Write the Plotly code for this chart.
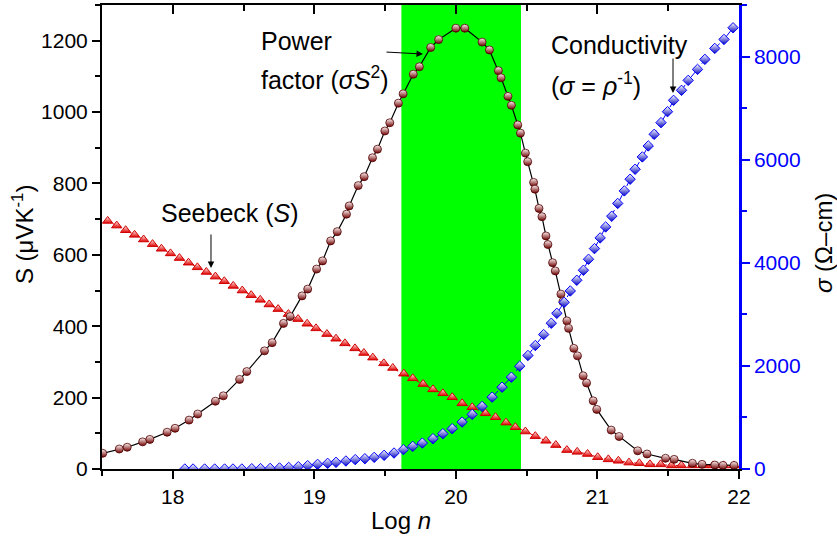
import plotly.graph_objects as go

# ---------------- data ----------------
pf_logn = [17.505, 17.622, 17.678, 17.787, 17.838, 17.960, 18.016, 18.115, 18.176, 18.301,
           18.357, 18.472, 18.523, 18.648, 18.702, 18.782, 18.829, 18.913, 18.953, 19.016,
           19.058, 19.115, 19.162, 19.227, 19.246, 19.310, 19.352, 19.411, 19.446, 19.498,
           19.533, 19.594, 19.627, 19.699, 19.742, 19.822, 19.878, 20.000, 20.063, 20.185,
           20.237, 20.300, 20.319, 20.368, 20.392, 20.437, 20.456, 20.491, 20.507, 20.549,
           20.558, 20.587, 20.608, 20.636, 20.650, 20.683, 20.702, 20.742, 20.756, 20.784,
           20.796, 20.833, 20.859, 20.899, 20.923, 20.970, 20.995, 21.097, 21.153, 21.284,
           21.350, 21.481, 21.542, 21.671, 21.739, 21.829, 21.887, 21.965]
pf_value = [44, 56, 61, 76, 83, 103, 114, 137, 154, 190,
            205, 251, 273, 331, 354, 408, 427, 485, 504, 560,
            583, 639, 665, 714, 737, 794, 819, 872, 896, 947,
            970, 1025, 1051, 1106, 1127, 1181, 1203, 1235, 1235, 1196,
            1174, 1116, 1096, 1044, 1019, 964, 941, 885, 861, 803,
            784, 730, 707, 653, 629, 578, 555, 490, 469, 415,
            394, 338, 317, 261, 241, 191, 167, 109, 91, 51,
            42, 30, 27, 16, 13, 11, 10, 10]

seebeck_logn = [17.540, 17.604, 17.667, 17.730, 17.794, 17.857, 17.920, 17.984, 18.047, 18.111,
                18.174, 18.237, 18.301, 18.364, 18.427, 18.491, 18.554, 18.618, 18.681, 18.744,
                18.817, 18.885, 18.949, 19.012, 19.089, 19.153, 19.216, 19.287, 19.350, 19.413,
                19.491, 19.554, 19.632, 19.695, 19.768, 19.838, 19.908, 19.974, 20.044, 20.115,
                20.209, 20.280, 20.354, 20.420, 20.491, 20.561, 20.636, 20.706, 20.784, 20.857,
                20.930, 21.002, 21.077, 21.148, 21.223, 21.296, 21.371, 21.446, 21.523, 21.593,
                21.671, 21.746, 21.817, 21.892, 21.965]
seebeck_S = [695, 682, 669, 656, 643, 630, 617, 604, 591, 578,
             565, 552, 539, 526, 513, 500, 487, 474, 461, 448,
             434, 420, 407, 394, 378, 365, 352, 338, 325, 312,
             296, 283, 267, 254, 238, 223, 212, 201, 184, 173,
             156, 145, 130, 117, 105, 92, 79, 67, 53, 48,
             42, 33, 27, 23, 18, 16, 13, 13, 10, 10,
             10, 10, 10, 10, 10]

cond_logn = [18.085, 18.143, 18.225, 18.296, 18.366, 18.425, 18.488, 18.558, 18.620, 18.688,
             18.754, 18.819, 18.887, 18.953, 19.023, 19.094, 19.153, 19.223, 19.289, 19.357,
             19.423, 19.493, 19.563, 19.629, 19.695, 19.763, 19.838, 19.908, 19.974, 20.044,
             20.115, 20.185, 20.256, 20.326, 20.392, 20.451, 20.509, 20.561, 20.620, 20.674,
             20.713, 20.765, 20.808, 20.854, 20.901, 20.937, 20.979, 21.019, 21.058, 21.101,
             21.143, 21.190, 21.231, 21.266, 21.317, 21.359, 21.401, 21.449, 21.495, 21.538,
             21.594, 21.641, 21.707, 21.759, 21.829, 21.894, 21.958]
cond_sigma = [0, 0, 0, 0, 0, 0, 0, 5, 8, 12,
              20, 30, 45, 65, 90, 110, 130, 155, 182, 200,
              226, 265, 310, 376, 439, 503, 588, 685, 782, 910,
              1059, 1214, 1394, 1587, 1781, 1994, 2202, 2395, 2608, 2827,
              3020, 3233, 3453, 3661, 3855, 4068, 4275, 4482, 4695, 4903,
              5151, 5394, 5621, 5814, 6053, 6266, 6492, 6718, 6931, 7151,
              7345, 7538, 7751, 7945, 8158, 8332, 8558]

highlight_logn = [19.615, 20.46]

x_range = [17.5, 22]
s_range = [0, 1300]
sigma_range = [0, 9000]

FONT = "Liberation Sans, Arial, sans-serif"
BLUE = "#0000ff"

fig = go.Figure()

fig.add_shape(type="rect", xref="x", yref="y", x0=highlight_logn[0], x1=highlight_logn[1],
              y0=s_range[0], y1=s_range[1], fillcolor="#00ff00", line_width=0, layer="below")

fig.add_trace(go.Scatter(
    x=seebeck_logn, y=seebeck_S, mode="lines+markers",
    line=dict(color="#d00000", width=1, dash="dot"),
    marker=dict(symbol="triangle-up", size=9, color="#fff4f0",
                gradient=dict(type="vertical", color="#e00000"),
                line=dict(color="#d00000", width=1)),
    showlegend=False, hoverinfo="skip"))

fig.add_trace(go.Scatter(
    x=pf_logn, y=pf_value, mode="lines+markers",
    line=dict(color="black", width=1.2),
    marker=dict(symbol="circle", size=8, color="#fff4f4",
                gradient=dict(type="vertical", color="#700000"),
                line=dict(color="#500000", width=0.8)),
    showlegend=False, hoverinfo="skip"))

fig.add_trace(go.Scatter(
    x=cond_logn, y=cond_sigma, mode="lines+markers", yaxis="y2",
    line=dict(color=BLUE, width=1, dash="dash"),
    marker=dict(symbol="diamond", size=8, color="white",
                gradient=dict(type="vertical", color="#0000c0"),
                line=dict(color=BLUE, width=1)),
    showlegend=False, hoverinfo="skip"))

# invisible trace so that the top (mirrored) x axis gets drawn
fig.add_trace(go.Scatter(x=pf_logn, y=pf_value, xaxis="x2", yaxis="y", mode="none",
                         showlegend=False, hoverinfo="skip"))

tickfont = dict(family=FONT, size=21, color="black")

fig.update_layout(
    width=837, height=540,
    margin=dict(l=102, r=98, t=5, b=71),
    paper_bgcolor="white", plot_bgcolor="white",
    font=dict(family=FONT, color="black"),
    showlegend=False,
    xaxis=dict(range=x_range, tickmode="linear", tick0=18, dtick=1,
               ticks="outside", ticklen=8, tickwidth=1.5, tickcolor="black",
               minor=dict(tick0=17.5, dtick=0.5, ticks="outside", ticklen=5, tickwidth=1.5, tickcolor="black"),
               showline=True, linecolor="black", linewidth=2,
               showgrid=False, zeroline=False, tickfont=tickfont),
    xaxis2=dict(range=x_range, overlaying="x", side="top", anchor="y",
                tickmode="linear", tick0=18, dtick=1,
                ticks="inside", ticklen=9, tickwidth=1.5, tickcolor="black",
                minor=dict(tick0=17.5, dtick=0.5, ticks="inside", ticklen=6, tickwidth=1.5, tickcolor="black"),
                showticklabels=False, showline=True, linecolor="black", linewidth=2,
                showgrid=False, zeroline=False),
    yaxis=dict(range=s_range, tickmode="linear", tick0=0, dtick=200,
               ticks="outside", ticklen=8, tickwidth=1.5, tickcolor="black",
               minor=dict(tick0=0, dtick=100, ticks="outside", ticklen=5, tickwidth=1.5, tickcolor="black"),
               showline=True, linecolor="black", linewidth=2,
               showgrid=False, zeroline=False, tickfont=tickfont),
    yaxis2=dict(range=sigma_range, overlaying="y", side="right", anchor="x",
                tickmode="linear", tick0=0, dtick=2000,
                ticks="outside", ticklen=8, tickwidth=2, tickcolor=BLUE,
                minor=dict(tick0=0, dtick=1000, ticks="outside", ticklen=5, tickwidth=2, tickcolor=BLUE),
                showline=True, linecolor=BLUE, linewidth=2.5,
                showgrid=False, zeroline=False,
                tickfont=dict(family=FONT, size=21, color=BLUE)),
)

afont = dict(family=FONT, size=25, color="black")
tfont = dict(family=FONT, size=24, color="black")

annotations = [
    # axis titles
    dict(text="Log <i>n</i>", x=0.4694, y=-0.110, xref="paper", yref="paper",
         xanchor="center", yanchor="middle", showarrow=False, font=tfont),
    dict(text="S (\u03bcVK<sup>-1</sup>)", x=-0.1250, y=0.505, xref="paper", yref="paper",
         xanchor="center", yanchor="middle", textangle=-90, showarrow=False, font=tfont),
    dict(text="<i>\u03c3</i> (\u03a9\u2013cm)", x=1.1319, y=0.487, xref="paper", yref="paper",
         xanchor="center", yanchor="middle", textangle=-90, showarrow=False, font=tfont),
    # labels
    dict(text="Power", x=0.2470, y=0.9224, xref="paper", yref="paper",
         xanchor="left", yanchor="middle", showarrow=False, font=afont),
    dict(text="factor (<i>\u03c3S</i><sup>2</sup>)", x=0.2470, y=0.8420, xref="paper", yref="paper",
         xanchor="left", yanchor="middle", showarrow=False, font=afont),
    dict(text="Seebeck (<i>S</i>)", x=0.201, y=0.5517, xref="paper", yref="paper",
         xanchor="center", yanchor="middle", showarrow=False, font=afont),
    dict(text="Conductivity", x=0.7020, y=0.9138, xref="paper", yref="paper",
         xanchor="left", yanchor="middle", showarrow=False, font=afont),
    dict(text="(<i>\u03c3</i> = <i>\u03c1</i><sup>-1</sup>)", x=0.7020, y=0.8300, xref="paper", yref="paper",
         xanchor="left", yanchor="middle", showarrow=False, font=afont),
    # arrows
    dict(text="", x=0.5039, y=0.8944, xref="paper", yref="paper", ax=-38, ay=-2,
         showarrow=True, arrowhead=2, arrowsize=1.3, arrowwidth=1, arrowcolor="black", standoff=0),
    dict(text="", x=0.1711, y=0.4332, xref="paper", yref="paper", ax=0, ay=-35,
         showarrow=True, arrowhead=2, arrowsize=1.3, arrowwidth=1, arrowcolor="black", standoff=0),
    dict(text="", x=0.8964, y=0.8103, xref="paper", yref="paper", ax=0, ay=-36,
         showarrow=True, arrowhead=2, arrowsize=1.3, arrowwidth=1, arrowcolor="black", standoff=0),
]
fig.update_layout(annotations=annotations)

fig.write_html("out.html")
